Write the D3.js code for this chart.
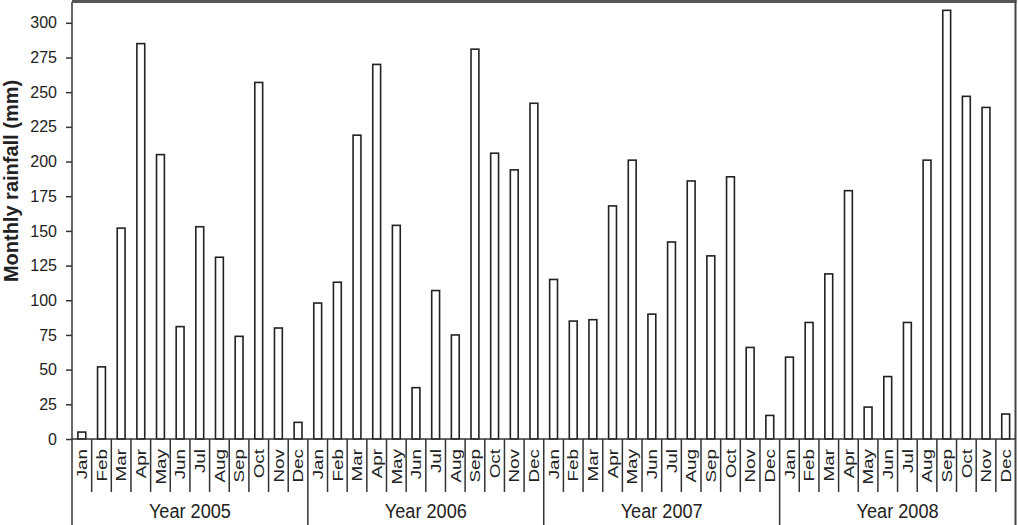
<!DOCTYPE html>
<html>
<head>
<meta charset="utf-8">
<script src="https://cdn.jsdelivr.net/npm/d3@7"></script>
<style>
  html, body { margin: 0; padding: 0; background: #fff; }
  svg { display: block; }
  text { font-family: "Liberation Sans", Arial, sans-serif; fill: #222; }
</style>
</head>
<body>
<svg id="chart" width="1019" height="525"></svg>
<script>
const years = ["Year 2005", "Year 2006", "Year 2007", "Year 2008"];
const months = ["Jan","Feb","Mar","Apr","May","Jun","Jul","Aug","Sep","Oct","Nov","Dec"];
const rain2005 = [5, 52, 152, 285, 205, 81, 153, 131, 74, 257, 80, 12];
const rain2006 = [98, 113, 219, 270, 154, 37, 107, 75, 281, 206, 194, 242];
const rain2007 = [115, 85, 86, 168, 201, 90, 142, 186, 132, 189, 66, 17];
const rain2008 = [59, 84, 119, 179, 23, 45, 84, 201, 309, 247, 239, 18];
const yTicks = [0, 25, 50, 75, 100, 125, 150, 175, 200, 225, 250, 275, 300];
const yTitle = "Monthly rainfall (mm)";

const series = [rain2005, rain2006, rain2007, rain2008];
const data = [];
years.forEach((yr, i) => months.forEach((m, j) => data.push({ key: yr + "-" + m, year: yr, month: m, value: series[i][j] })));

const svg = d3.select("#chart");
const mLeft = 72, mRight = 1015.5, mBase = 439, mTop = 2;

const x = d3.scaleBand().domain(data.map(d => d.key)).range([mLeft, mRight]).padding(0);
const y = d3.scaleLinear().domain([0, 315]).range([mBase, mTop]);
const bw = x.bandwidth();
const barW = bw * 0.4;

// bars
svg.append("g").selectAll("rect").data(data).join("rect")
  .attr("x", d => x(d.key) + (bw - barW) / 2)
  .attr("y", d => y(d.value))
  .attr("width", barW)
  .attr("height", d => mBase - y(d.value))
  .attr("fill", "#fff")
  .attr("stroke", "#222")
  .attr("stroke-width", 1.6);

// y axis
const yAxis = d3.axisLeft(y).tickValues(yTicks).tickSize(6).tickPadding(9).tickSizeOuter(0);
const gy = svg.append("g").attr("transform", `translate(${mLeft},0)`).call(yAxis);
gy.select(".domain").remove();
gy.selectAll(".tick line").attr("stroke", "#333").attr("stroke-width", 1.5);
gy.selectAll(".tick text").style("font-size", "16px").attr("fill", "#222");

// frame: left axis line, top line, right line
svg.append("line").attr("x1", mLeft).attr("x2", mLeft).attr("y1", mTop).attr("y2", 525)
  .attr("stroke", "#333").attr("stroke-width", 1.5);
svg.append("line").attr("x1", mLeft).attr("x2", mRight + 1).attr("y1", 1.5).attr("y2", 1.5)
  .attr("stroke", "#555").attr("stroke-width", 3);
svg.append("line").attr("x1", mRight).attr("x2", mRight).attr("y1", 0).attr("y2", 525)
  .attr("stroke", "#444").attr("stroke-width", 2);

// x baseline
svg.append("line").attr("x1", mLeft).attr("x2", mRight).attr("y1", mBase).attr("y2", mBase)
  .attr("stroke", "#333").attr("stroke-width", 1.5);

// month separators
const gx = svg.append("g");
data.forEach((d, i) => {
  if (i === 0) return;
  const isYear = i % 12 === 0;
  gx.append("line")
    .attr("x1", x(d.key)).attr("x2", x(d.key))
    .attr("y1", mBase).attr("y2", isYear ? 525 : 492)
    .attr("stroke", "#333").attr("stroke-width", 1.5);
});

// month labels
gx.selectAll("text.month").data(data).join("text")
  .attr("class", "month")
  .attr("transform", d => `translate(${x(d.key) + bw / 2},449) rotate(-90) scale(1.3,1)`)
  .attr("dy", "0.36em")
  .attr("text-anchor", "end")
  .style("font-size", "14.5px")
  .text(d => d.month);

// year labels
const yearBand = d3.scaleBand().domain(years).range([mLeft, mRight]);
svg.append("g").selectAll("text").data(years).join("text")
  .attr("x", d => yearBand(d) + yearBand.bandwidth() / 2)
  .attr("y", 518)
  .attr("text-anchor", "middle")
  .attr("textLength", 82)
  .attr("lengthAdjust", "spacingAndGlyphs")
  .style("font-size", "20px")
  .text(d => d);

// y title
svg.append("text")
  .attr("transform", `translate(18,181) rotate(-90)`)
  .attr("text-anchor", "middle")
  .style("font-size", "20px")
  .style("font-weight", "bold")
  .text(yTitle);
</script>
</body>
</html>
